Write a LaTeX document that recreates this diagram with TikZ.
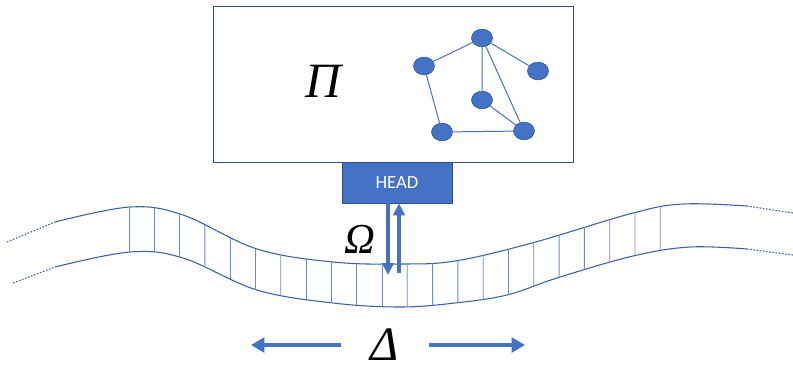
\documentclass[tikz,border=0pt]{standalone}
\usepackage{fontspec}
\newfontfamily\headfont{Carlito}
\newfontfamily\greekfont{Liberation Serif}
\definecolor{tmBlue}{HTML}{4472C4}
\definecolor{tmDark}{HTML}{2F528F}
\usetikzlibrary{arrows.meta,shapes.geometric,intersections}

\begin{document}
\begin{tikzpicture}[
  x=0.75pt,y=-0.75pt,
  frame/.style={draw=tmDark,line width=0.75pt,minimum width=270pt,minimum height=117pt,inner sep=0pt},
  headbox/.style={fill=tmBlue,draw=tmDark,line width=0.5pt,minimum width=82.5pt,minimum height=30.75pt,
                  text=white,font=\headfont\fontsize{14}{14}\selectfont},
  vertex/.style={ellipse,fill=tmBlue,draw=tmDark,line width=0.4pt,minimum width=15.75pt,
                 minimum height=13.3pt,inner sep=0pt},
  link/.style={draw=tmBlue,line width=0.75pt},
  rim/.style={draw=tmBlue!85!black,line width=0.8pt},
  fade/.style={rim,dash pattern=on 1.2pt off 1.2pt},
  cell/.style={draw=tmBlue!80,line width=0.6pt},
  greek/.style={inner sep=0pt,text=black,font=\greekfont\itshape\fontsize{37}{37}\selectfont},
  rwarrow/.style={draw=tmBlue,line width=3pt,-{Triangle[length=9pt,width=8.5pt]}},
  shiftarrow/.style={draw=tmBlue,line width=3.4pt,-{Triangle[length=10pt,width=11pt]}}
]
\useasboundingbox (0,0) rectangle (793,368);

\node[frame] (pibox) at (393,84) {};
\node[headbox] (head) at (397,182.5) {HEAD};
\node[greek] (pi) at (323,81.5) {Π};

\node[vertex] (gtop) at (482,38) {};
\node[vertex] (gleft) at (424,66) {};
\node[vertex] (gright) at (538,71) {};
\node[vertex] (gmid) at (482,100) {};
\node[vertex] (gbl) at (442,132) {};
\node[vertex] (gbr) at (524,131) {};
\draw[link] (gtop) -- (gleft) (gtop) -- (gright) (gtop) -- (gmid) (gtop) -- (gbr)
  (gmid) -- (gbr) (gleft) -- (gbl) (gbl) -- (gbr);

\draw[rim,name path=upper] plot[smooth,tension=0.6] coordinates {(55,222) (130,207) (183,215)
  (257,249) (333,262) (400,264) (455,261) (532,243) (633,213) (683,204) (747,206)};
\draw[rim,name path=lower] plot[smooth,tension=0.6] coordinates {(55,267) (130,252) (183,258)
  (257,290) (333,303) (400,307) (455,303) (507,295) (557,278) (633,256) (690,247) (747,249)};
\draw[fade] (7,242) -- (55,222) (13,283) -- (55,267);
\draw[fade] (747,206) -- (793,213) (747,249) -- (793,255);
\foreach \i in {0,...,21}{
  \pgfmathsetmacro\cx{129+25.3*\i}
  \path[name path=probe] (\cx,180) -- (\cx,330);
  \path[name intersections={of=upper and probe,name=u}];
  \path[name intersections={of=lower and probe,name=l}];
  \draw[cell] (u-1) -- (l-1);
}

\coordinate (downtip) at (388,275);
\coordinate (upfoot) at (399,273);
\draw[rwarrow] (head.south -| downtip) -- (downtip);
\draw[rwarrow] (upfoot) -- (upfoot |- head.south);
\node[greek,font=\greekfont\itshape\fontsize{32}{32}\selectfont] (omega) at (360,239) {Ω};

\node[greek,inner xsep=22pt,font=\greekfont\itshape\fontsize{36}{36}\selectfont] (delta) at (385,345) {Δ};
\coordinate (leftend) at (251,345);
\coordinate (rightend) at (525,345);
\draw[shiftarrow] (delta.west |- leftend) -- (leftend);
\draw[shiftarrow] (delta.east |- rightend) -- (rightend);
\end{tikzpicture}
\end{document}
